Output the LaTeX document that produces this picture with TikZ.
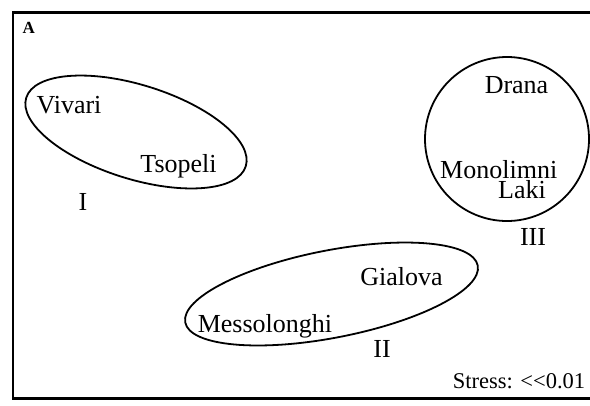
\documentclass[tikz,border=0pt]{standalone}
\usepackage{fontspec}
\setmainfont{Liberation Serif}[Ligatures=NoCommon]
\tikzset{
  lbl/.style={inner sep=0pt, anchor=base, font=\fontsize{26bp}{30bp}\selectfont},
  small/.style={inner sep=0pt, anchor=base, font=\fontsize{22.5bp}{26bp}\selectfont},
  panel/.style={inner sep=0pt, anchor=base west, font=\bfseries\fontsize{17bp}{19bp}\selectfont},
  frame/.style={line width=2.2bp},
  cluster/.style={line width=1.8bp}
}
\begin{document}
\begin{tikzpicture}[x=1bp,y=-1bp]
\useasboundingbox (0,0) rectangle (590,405);
\clip (0,0) rectangle (590,405);
% frame
\coordinate (tr) at (600,12.5);
\coordinate (tl) at (13,12.5);
\coordinate (bl) at (13,398.5);
\coordinate (br) at (600,398.5);
\draw[frame] (tr) -- (tl) -- (bl) -- (br);
% cluster outlines
\draw[cluster] (136,132) ellipse [x radius=115bp, y radius=47bp, rotate=-17.35];
\draw[cluster] (331.5,294) ellipse [x radius=149bp, y radius=43.7bp, rotate=11];
\draw[cluster] (507,139) circle [radius=82bp];
% labels
\node[panel] (A) at (22.5,33) {A};
\node[lbl] (vivari) at (69,113) {Vivari};
\node[lbl] (tsopeli) at (178.5,172) {Tsopeli};
\node[lbl] (I) at (83,210) {I};
\node[lbl] (drana) at (516.5,93) {Drana};
\node[lbl, anchor=base west, align=left, font=\fontsize{26bp}{20.5bp}\selectfont] (monolimnilaki) at (440,198.5) {Monolimni\\\hspace*{58bp}Laki};
\node[lbl] (III) at (533,245) {III};
\node[lbl] (gialova) at (401.5,285) {Gialova};
\node[lbl] (messolonghi) at (265,332) {Messolonghi};
\node[lbl] (II) at (382,357) {II};
\node[small] (stress) at (519,388) {Stress: {<}{<}0.01};
\end{tikzpicture}
\end{document}
